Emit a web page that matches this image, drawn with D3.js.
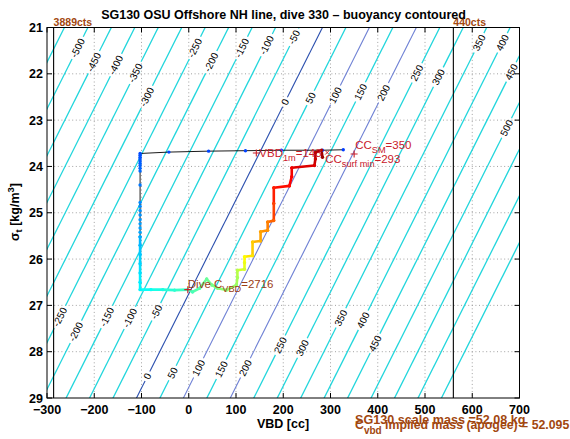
<!DOCTYPE html>
<html><head><meta charset="utf-8">
<script src="https://cdn.jsdelivr.net/npm/d3@7"></script>
<style>
body{margin:0;background:#fff}
svg{display:block}
text{font-family:"Liberation Sans",Arial,Helvetica,sans-serif}
</style></head>
<body><svg id="c" width="570" height="439"></svg>
<script>
// ---------------- data ----------------
const xTicks = [-300,-200,-100,0,100,200,300,400,500,600,700];
const yTicks = [21,22,23,24,25,26,27,28,29];
const xGrid = [-200,-100,0,100,200,300,400,500,600];
const yGrid = [22,23,24,25,26,27,28];

// buoyancy contour levels [g]
const contourLevels = [-650,-600,-550,-500,-450,-400,-350,-300,-250,-200,-150,-100,-50,0,50,100,150,200,250,300,350,400,450,500,550,600,650];
const blueLevels = [0,100,200];
// buoyancy model: VBD of the 0 g contour at sigma 21, cc per gram, cc per sigma unit
const vbdZeroAt21 = 283, ccPerGram = 0.993, ccPerSigma = 49.2;
// contour labels: level and sigma where placed
const labelLevel = [-500,-450,-400,-350,-300,-250,-200,-150,-100,-50,350,400,450,500,
                    0,50,100,150,200,250,300,
                    -250,-200,-150,-100,-50,0,50,100,150,200,250,300,350,400,450];
const labelSigma = [21.44,21.75,21.81,21.98,22.50,21.44,21.75,21.44,21.38,21.21,21.33,21.33,21.96,23.17,
                    22.61,22.52,22.46,22.39,22.41,21.98,22.07,
                    27.25,27.57,27.25,27.27,27.14,28.53,28.46,28.35,28.38,28.35,27.86,27.92,27.27,27.32,27.82];

// pump-count reference lines
const ctsVbd = [-286, 560];
const ctsLabel = ["3889cts", "440cts"];

// trajectory: surface bleed + upper descent (sparse samples)
const surfVbd   = [327,283,196,120,42,-42,-103,-103,-103,-103,-103,-103,-103,-103,-103,-103,-103,-103,-103,-103,-103,-103,-103,-103,-103];
const surfSigma = [23.64,23.65,23.65,23.66,23.67,23.69,23.72,23.76,23.80,23.84,23.88,23.93,23.98,24.04,24.10,24.40,24.78,24.86,24.95,25.05,25.15,25.24,25.33,25.42,25.52];
const surfMin   = [44,44.5,45,45.5,46,46.5,47,48,49,50,51,52,53,54,55,58,62,63,64,65,66,67,68,69,70];
// lower descent, apogee and climb (dense samples)
const climbVbd   = [-103,-103,-103,-103,-103,-103,-103,-80,-55,-30,-2,8,23,38,49,61,80,101,103,103,118,118,118,135,135,152,152,167,167,180,180,180,213,218,218,266,268,268,281,283];
const climbSigma = [25.52,25.70,25.90,26.10,26.30,26.50,26.66,26.66,26.66,26.67,26.66,26.71,26.63,26.43,26.56,26.63,26.67,26.56,26.40,26.24,26.22,26.08,25.95,25.93,25.63,25.61,25.41,25.38,25.20,25.17,24.80,24.46,24.42,24.22,24.03,23.98,23.84,23.70,23.65,23.80];
const climbMin   = [70,73,77,80,83,86,88,92,96,100,104,107,110,114,117,120,123,126,129,133,140,145,150,156,162,168,172,176,180,186,195,203,207,210,213,218,222,226,229,233];

// annotation markers
const vbd1m = 143, vbd1mSigma = 23.71;
const ccSM = 350, ccSMSigma = 23.73;
const ccSurfMin = 293, ccSurfMinSigma = 23.70;
const cVbd = 2716, cVbdX = -2, cVbdSigma = 26.66;
const scaleMass = "52.08", impliedMass = "52.095";

// ---------------- drawing ----------------
const svg = d3.select("#c");
const L = 47, R = 519.5, T = 27.5, B = 398;
const x = d3.scaleLinear().domain([-300,700]).range([L,R]);
const y = d3.scaleLinear().domain([21,29]).range([T,B]);

svg.append("defs").append("clipPath").attr("id","clip")
  .append("rect").attr("x",L).attr("y",T).attr("width",R-L).attr("height",B-T);

// grid
const grid = svg.append("g").attr("stroke","#8a8a8a").attr("stroke-width",0.8).attr("stroke-dasharray","1,2.6");
xGrid.forEach(v=>grid.append("line").attr("x1",x(v)).attr("x2",x(v)).attr("y1",T).attr("y2",B));
yGrid.forEach(v=>grid.append("line").attr("y1",y(v)).attr("y2",y(v)).attr("x1",L).attr("x2",R));

// contours
const vbdOf = (s, lev) => vbdZeroAt21 + ccPerGram*lev - ccPerSigma*(s-21);
const cg = svg.append("g").attr("clip-path","url(#clip)");
const lg = svg.append("g");
const pxPerSigma = Math.hypot(x(ccPerSigma)-x(0), y(22)-y(21));
const ang = Math.atan2(y(22)-y(21), x(-ccPerSigma)-x(0)) * 180/Math.PI + 180; // up-right direction
contourLevels.forEach(lev=>{
  const isBlue = blueLevels.includes(lev);
  const col = lev===0 ? "#2a4fae" : (isBlue ? "#6e80d4" : "#22d6dc");
  const gaps = [];
  labelLevel.forEach((lv,i)=>{
    if(lv!==lev) return;
    const s = labelSigma[i];
    const px = x(vbdOf(s,lev)), py = y(s);
    const t = lg.append("text").attr("font-size",10).attr("text-anchor","middle")
      .attr("dominant-baseline","central")
      .attr("transform",`translate(${px},${py}) rotate(${ang})`).text(String(lev));
    const w = t.node().getComputedTextLength();
    const h = (w/2+2.5)/pxPerSigma;
    gaps.push([s-h, s+h]);
  });
  gaps.sort((a,b)=>a[0]-b[0]);
  let start = 20.5; const segs=[];
  gaps.forEach(g=>{segs.push([start,g[0]]); start=g[1];});
  segs.push([start,29.5]);
  segs.forEach(sg=>{
    cg.append("line").attr("x1",x(vbdOf(sg[0],lev))).attr("y1",y(sg[0]))
      .attr("x2",x(vbdOf(sg[1],lev))).attr("y2",y(sg[1]))
      .attr("stroke",col).attr("stroke-width",isBlue?1.1:1.3);
  });
});

// pump-count lines
ctsVbd.forEach((v,i)=>{
  svg.append("line").attr("x1",x(v)).attr("x2",x(v)).attr("y1",T).attr("y2",B)
    .attr("stroke","#000").attr("stroke-width",1.1);
  svg.append("text").attr("x",x(v)).attr("y",T-1.5).attr("font-size",10.5).attr("font-weight","bold")
    .attr("fill","#a2470f").text(ctsLabel[i]);
});

// trajectory
const jet = d3.scaleLinear().domain([0,0.125,0.375,0.625,0.875,1])
  .range(["#00008f","#0000ff","#00ffff","#ffff00","#ff0000","#800000"]).clamp(true);
const tcol = m => jet(m/240);
const tg = svg.append("g").attr("clip-path","url(#clip)");
const allV = surfVbd.concat(climbVbd.slice(1)), allS = surfSigma.concat(climbSigma.slice(1));
tg.append("path").attr("d", d3.line()(allV.map((v,i)=>[x(v),y(allS[i])])))
  .attr("fill","none").attr("stroke","#000").attr("stroke-width",0.9);
for(let i=1;i<climbVbd.length;i++){
  tg.append("line").attr("x1",x(climbVbd[i-1])).attr("y1",y(climbSigma[i-1]))
    .attr("x2",x(climbVbd[i])).attr("y2",y(climbSigma[i]))
    .attr("stroke",tcol(climbMin[i])).attr("stroke-width",2.6).attr("stroke-linecap","round");
}
surfVbd.forEach((v,i)=>tg.append("circle").attr("cx",x(v)).attr("cy",y(surfSigma[i])).attr("r",1.7).attr("fill",tcol(surfMin[i])));
climbVbd.forEach((v,i)=>tg.append("circle").attr("cx",x(v)).attr("cy",y(climbSigma[i])).attr("r",1.7).attr("fill",tcol(climbMin[i])));

// annotations
const red = "#c9202a", brown = "#9a3c14";
function plus(v,s,col){
  const px=x(v), py=y(s);
  svg.append("path").attr("d",`M${px-3.5},${py}H${px+3.5}M${px},${py-3.5}V${py+3.5}`).attr("stroke",col).attr("stroke-width",1.1);
}
function sub(parent, main, subs, rest, px, py, col, fs){
  const t = parent.append("text").attr("x",px).attr("y",py).attr("font-size",fs).attr("fill",col);
  t.append("tspan").text(main);
  t.append("tspan").attr("dy",4).attr("font-size",fs*0.8).text(subs);
  t.append("tspan").attr("dy",-4).text(rest);
  return t;
}
plus(vbd1m, vbd1mSigma, red);
sub(svg, "VBD", "1m", "=143", x(vbd1m)+3, y(vbd1mSigma)+4, red, 11.5);
plus(ccSM, ccSMSigma, red);
sub(svg, "CC", "SM", "="+ccSM, x(ccSM)+1, y(ccSMSigma)-5, red, 11.5);
svg.append("path").attr("d",(()=>{const px=x(ccSurfMin),py=y(ccSurfMinSigma);return `M${px-2},${py-2}l4,4m0,-4l-4,4`;})())
  .attr("stroke",red).attr("stroke-width",1);
sub(svg, "CC", "surf min", "="+ccSurfMin, x(ccSurfMin)-2, y(ccSurfMinSigma)+10.5, red, 11.5);
plus(cVbdX, cVbdSigma, red);
sub(svg, "Dive C", "VBD", "="+cVbd, x(cVbdX), y(cVbdSigma)-2, brown, 11.5);

// axes box & ticks
const ax = svg.append("g").attr("stroke","#000").attr("stroke-width",1);
ax.append("rect").attr("x",L).attr("y",T).attr("width",R-L).attr("height",B-T).attr("fill","none");
xTicks.forEach(v=>{
  ax.append("line").attr("x1",x(v)).attr("x2",x(v)).attr("y1",B).attr("y2",B-5);
  ax.append("line").attr("x1",x(v)).attr("x2",x(v)).attr("y1",T).attr("y2",T+5);
  svg.append("text").attr("x",x(v)).attr("y",414).attr("text-anchor","middle")
    .attr("font-size",12.5).attr("font-weight","bold").text(v<0?"\u2212"+(-v):String(v));
});
yTicks.forEach(v=>{
  ax.append("line").attr("y1",y(v)).attr("y2",y(v)).attr("x1",L).attr("x2",L+5);
  ax.append("line").attr("y1",y(v)).attr("y2",y(v)).attr("x1",R).attr("x2",R-5);
  svg.append("text").attr("x",43).attr("y",y(v)+4.5).attr("text-anchor","end")
    .attr("font-size",12.5).attr("font-weight","bold").text(String(v));
});

// titles
svg.append("text").attr("x",283.5).attr("y",18.5).attr("text-anchor","middle")
  .attr("font-size",12.5).attr("font-weight","bold")
  .text("SG130 OSU Offshore NH line, dive 330 \u2013 buoyancy contoured");
svg.append("text").attr("x",283).attr("y",428).attr("text-anchor","middle")
  .attr("font-size",12.5).attr("font-weight","bold").text("VBD [cc]");
const yl = svg.append("text").attr("transform","translate(19,212) rotate(-90)").attr("text-anchor","middle")
  .attr("font-size",12.5).attr("font-weight","bold");
yl.append("tspan").text("\u03c3");
yl.append("tspan").attr("dy",3).attr("font-size",9.5).text("t");
yl.append("tspan").attr("dy",-3).text(" [kg/m");
yl.append("tspan").attr("dy",-5).attr("font-size",9.5).text("3");
yl.append("tspan").attr("dy",5).text("]");

// mass texts (overlapping, as in the original figure)
svg.append("text").attr("x",355).attr("y",424).attr("font-size",12.6).attr("font-weight","bold")
  .attr("fill","#a2470f").text("SG130 scale mass ="+scaleMass+" kg");
const mt = svg.append("text").attr("x",355).attr("y",428.5).attr("font-size",12.3).attr("font-weight","bold").attr("fill","#a2470f");
mt.append("tspan").text("C");
mt.append("tspan").attr("dy",5).attr("font-size",10).text("vbd");
mt.append("tspan").attr("dy",-5).text(" implied mass (apogee) = "+impliedMass);
</script></body></html>
